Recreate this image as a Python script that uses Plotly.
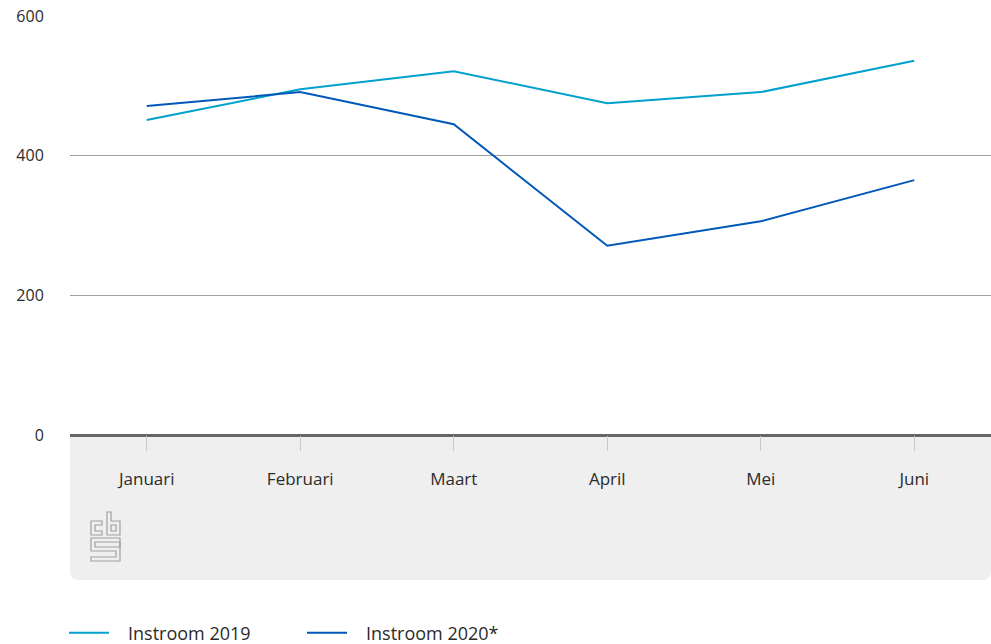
import plotly.graph_objects as go

months = ["Januari", "Februari", "Maart", "April", "Mei", "Juni"]
instroom_2019 = [451, 495, 521, 475, 491, 536]
instroom_2020 = [471, 491, 445, 271, 306, 365]
y_ticks = [0, 200, 400, 600]
series_names = ["Instroom 2019", "Instroom 2020*"]

W, H = 991, 644
L, R, T, B = 70, 0, 16, 209
PW, PH = W - L - R, H - T - B

def px(x):
    return (x - L) / PW

def py(y):
    return (H - B - y) / PH

def path(points):
    return "M " + " L ".join(f"{px(x):.5f},{py(y):.5f}" for x, y in points) + " Z"

pad = "\u00a0\u00a0\u00a0"
fig = go.Figure()
fig.add_trace(go.Scatter(x=months, y=instroom_2019, mode="lines",
                         name=pad + series_names[0],
                         line=dict(color="#00a1cd", width=2)))
fig.add_trace(go.Scatter(x=months, y=instroom_2020, mode="lines",
                         name=pad + series_names[1],
                         line=dict(color="#0058b8", width=2)))

shapes = []
r = 9
x0, x1, y0, y1 = 70, 991, 435, 580
box = (f"M {px(x0):.5f},{py(y0):.5f} L {px(x1):.5f},{py(y0):.5f} "
       f"L {px(x1):.5f},{py(y1-r):.5f} Q {px(x1):.5f},{py(y1):.5f} {px(x1-r):.5f},{py(y1):.5f} "
       f"L {px(x0+r):.5f},{py(y1):.5f} Q {px(x0):.5f},{py(y1):.5f} {px(x0):.5f},{py(y1-r):.5f} Z")
shapes.append(dict(type="path", xref="paper", yref="paper", path=box,
                   fillcolor="#efefef", line=dict(width=0), layer="below"))

logo_col = "#a0a0a0"
logo_paths = [
    [(102, 521), (91, 521), (91, 535), (102, 535), (102, 531), (95, 531), (95, 525), (102, 525)],
    [(107, 512), (111, 512), (111, 521), (120, 521), (120, 535), (107, 535)],
    [(111, 525), (116, 525), (116, 531), (111, 531)],
    [(91, 538), (120, 538), (120, 561), (91, 561), (91, 557), (116, 557), (116, 551),
     (91, 551), (91, 538)],
    [(95, 542), (120, 542), (120, 547), (95, 547)],
]
for p in logo_paths:
    shapes.append(dict(type="path", xref="paper", yref="paper", path=path(p),
                       fillcolor="rgba(0,0,0,0)", line=dict(color=logo_col, width=1.2)))

fig.update_layout(
    width=W, height=H,
    margin=dict(l=L, r=R, t=T, b=B, pad=0, autoexpand=False),
    paper_bgcolor="white", plot_bgcolor="white",
    font=dict(family="'Open Sans', sans-serif", size=16, color="#2b2b2b"),
    shapes=shapes,
    showlegend=True,
    legend=dict(orientation="h", x=px(64), xanchor="left", y=py(633), yanchor="middle",
                font=dict(size=18, color="#2b2b2b"), itemwidth=40,
                entrywidth=183, entrywidthmode="pixels", bgcolor="rgba(0,0,0,0)",
                itemclick=False, itemdoubleclick=False),
    xaxis=dict(range=[-0.5, 5.5], showgrid=False, showline=False, zeroline=False,
               ticks="outside", ticklen=15, tickcolor="#c8c8c8", tickwidth=1,
               ticklabelstandoff=14, tickfont=dict(size=17), fixedrange=True),
    yaxis=dict(range=[0, 600], tickvals=y_ticks, showgrid=True, gridcolor="#a0a0a0",
               gridwidth=1, zeroline=True, zerolinecolor="#666666", zerolinewidth=3,
               showline=False, ticks="outside", ticklen=22, tickcolor="rgba(0,0,0,0)",
               fixedrange=True),
)

fig.write_html("out.html", config={"displayModeBar": False},
               post_script="document.body.style.margin='0';document.body.style.overflow='hidden';")
